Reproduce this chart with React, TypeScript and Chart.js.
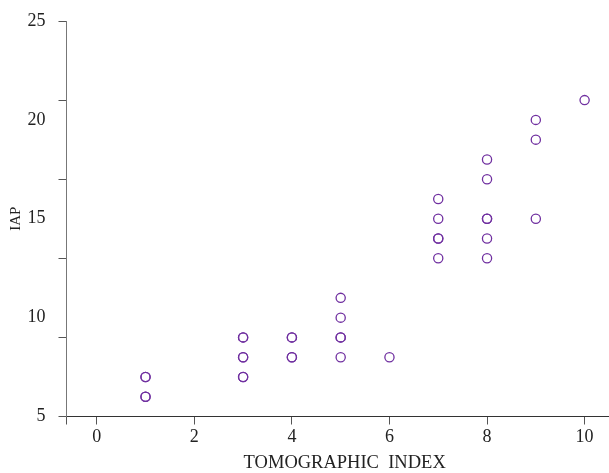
import React, { useEffect, useRef } from "react";
import { Chart, registerables } from "chart.js";

Chart.register(...registerables);

// Data (duplicates = overplotted markers)
const tomographicIndex = [1, 1, 1, 1, 3, 3, 3, 3, 3, 3, 4, 4, 4, 4, 5, 5, 5, 5, 5, 6, 7, 7, 7, 7, 7, 8, 8, 8, 8, 8, 8, 9, 9, 9, 10];
const iapValues = [7, 7, 6, 6, 9, 9, 8, 8, 7, 7, 9, 9, 8, 8, 11, 10, 9, 9, 8, 8, 16, 15, 14, 14, 13, 18, 17, 15, 15, 14, 13, 20, 19, 15, 21];

const xTickValues = [0, 2, 4, 6, 8, 10];
const yLabelValues = [5, 10, 15, 20, 25];
const yMarkValues = [5, 9, 13, 17, 21, 25];

const X_MIN = -0.62;
const X_MAX = 10.5;
const Y_MIN = 5;
const Y_MAX = 25;

export default function App() {
  const canvasRef = useRef<HTMLCanvasElement | null>(null);

  useEffect(() => {
    const canvas = canvasRef.current;
    if (!canvas) return;
    const points = tomographicIndex.map((x, i) => ({ x, y: iapValues[i] }));
    const axisColor = "#555555";
    const family = "'Liberation Serif', 'Times New Roman', serif";

    const chart = new Chart(canvas, {
      type: "scatter",
      data: {
        datasets: [
          {
            data: points,
            pointStyle: "circle",
            pointRadius: 4.6,
            pointBorderWidth: 1.3,
            borderColor: "#7030A0",
            backgroundColor: "rgba(255,255,255,0)",
            pointHoverRadius: 4.6,
          },
        ],
      },
      options: {
        responsive: false,
        animation: false,
        layout: { autoPadding: false, padding: { top: 21, right: 0, bottom: 0, left: 0 } },
        plugins: {
          legend: { display: false },
          tooltip: { enabled: false },
        },
        scales: {
          x: {
            type: "linear",
            min: X_MIN,
            max: X_MAX,
            afterBuildTicks: (scale: any) => {
              scale.ticks = [X_MIN, ...xTickValues].map((v) => ({ value: v }));
            },
            afterFit: (scale: any) => {
              scale.height = 473 - 416.5;
              scale.paddingLeft = 0;
              scale.paddingRight = 0;
            },
            ticks: {
              autoSkip: false,
              maxRotation: 0,
              padding: 2,
              color: "#222222",
              font: { family, size: 18 },
              callback: (v: any) => (xTickValues.includes(Number(v)) ? String(v) : ""),
            },
            grid: {
              display: true,
              drawOnChartArea: false,
              drawTicks: true,
              tickLength: 8,
              tickColor: axisColor,
              tickWidth: 1,
            },
            border: { display: true, color: "#333333", width: 1 },
            title: {
              display: true,
              text: "   TOMOGRAPHIC  INDEX",
              color: "#222222",
              font: { family, size: 18.5 },
              padding: { top: 0, bottom: -1 },
            },
          },
          y: {
            type: "linear",
            min: Y_MIN,
            max: Y_MAX,
            afterBuildTicks: (scale: any) => {
              const all = Array.from(new Set([...yMarkValues, ...yLabelValues])).sort((a, b) => a - b);
              scale.ticks = all.map((v) => ({ value: v }));
            },
            afterFit: (scale: any) => {
              scale.width = 66.5;
              scale.paddingTop = 0;
              scale.paddingBottom = 0;
            },
            ticks: {
              autoSkip: false,
              padding: 13,
              color: "#222222",
              font: { family, size: 18 },
              callback: (v: any) => (yLabelValues.includes(Number(v)) ? String(v) : ""),
            },
            grid: {
              display: true,
              drawOnChartArea: false,
              drawTicks: true,
              tickLength: 8,
              tickWidth: 1,
              tickColor: (ctx: any) =>
                ctx.tick && yMarkValues.includes(ctx.tick.value) ? axisColor : "rgba(0,0,0,0)",
            },
            border: { display: true, color: "#777777", width: 1 },
            title: {
              display: true,
              text: "IAP",
              color: "#222222",
              font: { family, size: 15 },
              padding: { top: 7, bottom: 0 },
            },
          },
        },
      },
    });
    return () => chart.destroy();
  }, []);

  return (
    <div style={{ position: "absolute", left: 0, top: 0, width: 609, height: 473 }}>
      <canvas ref={canvasRef} width={609} height={473} style={{ display: "block" }} />
    </div>
  );
}
